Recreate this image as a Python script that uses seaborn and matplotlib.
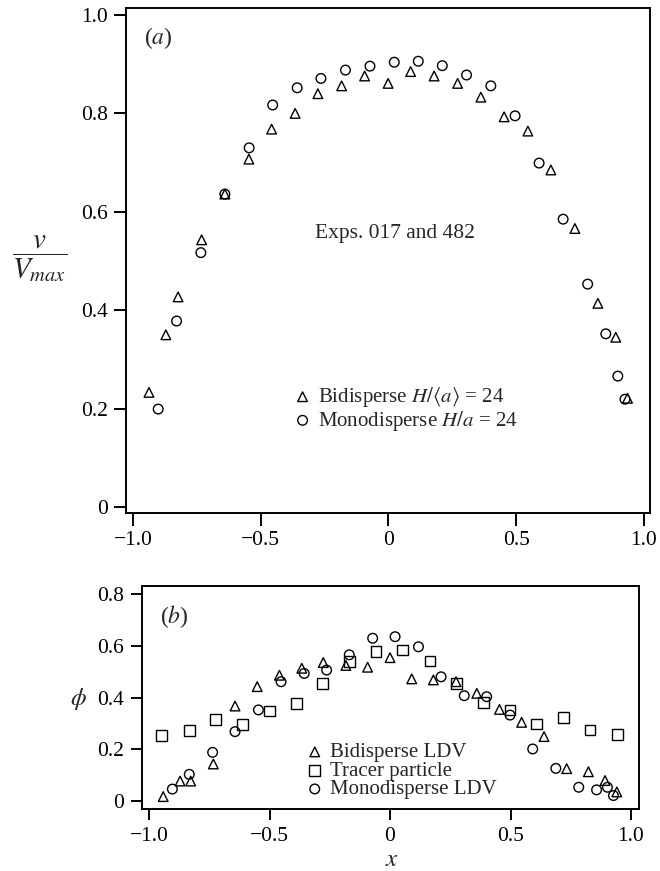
import matplotlib
matplotlib.use("Agg")
import matplotlib.pyplot as plt
import seaborn as sns
import numpy as np

# ---------------- data ----------------
# Panel (a): normalised velocity profile
a_bi_x = [-0.937, -0.871, -0.823, -0.731, -0.640, -0.546, -0.457, -0.365, -0.276, -0.183,
          -0.093, -0.001, 0.087, 0.179, 0.271, 0.362, 0.453, 0.546, 0.636, 0.730,
          0.820, 0.890, 0.936]
a_bi_y = [0.233, 0.350, 0.427, 0.543, 0.636, 0.707, 0.768, 0.800, 0.840, 0.856,
          0.876, 0.861, 0.885, 0.876, 0.861, 0.833, 0.793, 0.764, 0.685, 0.566,
          0.414, 0.345, 0.221]
a_mono_x = [-0.901, -0.829, -0.734, -0.640, -0.545, -0.453, -0.357, -0.264, -0.168, -0.072,
            0.023, 0.117, 0.211, 0.306, 0.401, 0.496, 0.590, 0.684, 0.780, 0.851,
            0.898, 0.926]
a_mono_y = [0.199, 0.378, 0.517, 0.636, 0.730, 0.817, 0.852, 0.871, 0.888, 0.896,
            0.904, 0.906, 0.897, 0.878, 0.856, 0.795, 0.699, 0.585, 0.453, 0.352,
            0.266, 0.219]

# Panel (b): concentration profile
b_bi_x = [-0.941, -0.871, -0.827, -0.733, -0.643, -0.551, -0.459, -0.366, -0.277, -0.183,
          -0.093, 0.000, 0.090, 0.180, 0.274, 0.360, 0.454, 0.546, 0.639, 0.733,
          0.823, 0.892, 0.941]
b_bi_y = [0.017, 0.077, 0.077, 0.143, 0.367, 0.442, 0.486, 0.513, 0.535, 0.524,
          0.517, 0.554, 0.472, 0.468, 0.461, 0.416, 0.354, 0.304, 0.249, 0.125,
          0.113, 0.079, 0.035]
b_tr_x = [-0.947, -0.833, -0.723, -0.611, -0.501, -0.387, -0.279, -0.169, -0.058,
          0.053, 0.166, 0.277, 0.387, 0.498, 0.609, 0.719, 0.830, 0.943]
b_tr_y = [0.252, 0.272, 0.316, 0.296, 0.348, 0.378, 0.455, 0.538, 0.578,
          0.584, 0.541, 0.455, 0.381, 0.352, 0.298, 0.322, 0.274, 0.256]
b_mono_x = [-0.903, -0.833, -0.736, -0.643, -0.546, -0.452, -0.356, -0.263, -0.169, -0.072,
            0.021, 0.118, 0.212, 0.308, 0.401, 0.498, 0.592, 0.688, 0.783, 0.857,
            0.902, 0.927]
b_mono_y = [0.046, 0.103, 0.188, 0.268, 0.352, 0.461, 0.493, 0.506, 0.565, 0.629,
            0.635, 0.596, 0.480, 0.407, 0.403, 0.332, 0.201, 0.126, 0.053, 0.043,
            0.053, 0.021]

# tick values / labels
x_ticks = [-1.0, -0.5, 0.0, 0.5, 1.0]
x_tick_labels = ["\u22121.0", "\u22120.5", "0", "0.5", "1.0"]
a_y_ticks = [0.0, 0.2, 0.4, 0.6, 0.8, 1.0]
a_y_tick_labels = ["0", "0.2", "0.4", "0.6", "0.8", "1.0"]
b_y_ticks = [0.0, 0.2, 0.4, 0.6, 0.8]
b_y_tick_labels = ["0", "0.2", "0.4", "0.6", "0.8"]

a_labels = [r"Bidisperse $H/\langle a\rangle$ = 24", r"Monodisperse $H/a$ = 24"]
b_labels = ["Bidisperse LDV", "Tracer particle", "Monodisperse LDV"]

# ---------------- style ----------------
sns.set_theme(style="ticks")
plt.rcParams["font.family"] = ["Liberation Serif", "DejaVu Serif"]
plt.rcParams["mathtext.fontset"] = "stix"
plt.rcParams["axes.linewidth"] = 1.4
plt.rcParams["axes.edgecolor"] = "black"

W, H = 660, 871
fig = plt.figure(figsize=(W / 100, H / 100), dpi=100)
ax_a = fig.add_axes([126 / W, 1 - 513 / H, (650 - 126) / W, (513 - 8) / H])
ax_b = fig.add_axes([142 / W, 1 - 809 / H, (639 - 142) / W, (809 - 586) / H])

mk = dict(facecolor="none", edgecolor="black", linewidth=1.0)

sns.scatterplot(x=a_bi_x, y=a_bi_y, marker="^", s=48, ax=ax_a, label=a_labels[0], **mk)
sns.scatterplot(x=a_mono_x, y=a_mono_y, marker="o", s=48, ax=ax_a, label=a_labels[1], **mk)

sns.scatterplot(x=b_bi_x, y=b_bi_y, marker="^", s=48, ax=ax_b, label=b_labels[0], **mk)
sns.scatterplot(x=b_tr_x, y=b_tr_y, marker="s", s=60, ax=ax_b, label=b_labels[1], **mk)
sns.scatterplot(x=b_mono_x, y=b_mono_y, marker="o", s=48, ax=ax_b, label=b_labels[2], **mk)

# axes (a)
ax_a.set_xlim(-1.027, 1.024)
ax_a.set_ylim(-0.0122, 1.0142)
ax_a.set_xticks(x_ticks)
ax_a.set_xticklabels(x_tick_labels)
ax_a.set_yticks(a_y_ticks)
ax_a.set_yticklabels(a_y_tick_labels)

# axes (b)
ax_b.set_xlim(-1.029, 1.033)
ax_b.set_ylim(-0.031, 0.831)
ax_b.set_xticks(x_ticks)
ax_b.set_xticklabels(x_tick_labels)
ax_b.set_yticks(b_y_ticks)
ax_b.set_yticklabels(b_y_tick_labels)

for ax in (ax_a, ax_b):
    for sp in ax.spines.values():
        sp.set_visible(True)
        sp.set_linewidth(1.4)
        sp.set_color("black")
    ax.tick_params(axis="both", direction="out", length=9, width=1.4,
                   labelsize=15.5, pad=4, colors="black", top=False, right=False)
    ax.set_xlabel("")
    ax.set_ylabel("")
    ax.grid(False)
    ax.set_facecolor("white")

ax_b.tick_params(axis="both", length=8, pad=5)

# panel texts
ax_a.text(0.034, 0.941, r"($\mathit{a}$)", transform=ax_a.transAxes,
          fontsize=17, ha="left", va="center")
ax_b.text(0.036, 0.861, r"($\mathit{b}$)", transform=ax_b.transAxes,
          fontsize=17, ha="left", va="center")
ax_a.text(0.361, 0.545, "Exps. 017 and 482", transform=ax_a.transAxes,
          fontsize=15.5, ha="left", va="baseline")

# axis labels
fig.text(40 / W, 1 - 259 / H, r"$\dfrac{v}{V_{max}}$", fontsize=21,
         ha="center", va="center")
fig.text(78 / W, 1 - 699 / H, r"$\phi$", fontsize=18, ha="center", va="center")
fig.text(392 / W, 1 - 866 / H, r"$x$", fontsize=18, ha="center", va="baseline")

# legends
leg_kw = dict(frameon=False, fontsize=15, handlelength=0.6, handletextpad=0.45,
              borderpad=0, borderaxespad=0, loc="center left")
ax_a.legend(bbox_to_anchor=(0.325, 0.206), labelspacing=-0.02, **leg_kw)
ax_b.legend(bbox_to_anchor=(0.335, 0.170), labelspacing=-0.05, **leg_kw)

fig.savefig("out.png", dpi=100, facecolor="white")
